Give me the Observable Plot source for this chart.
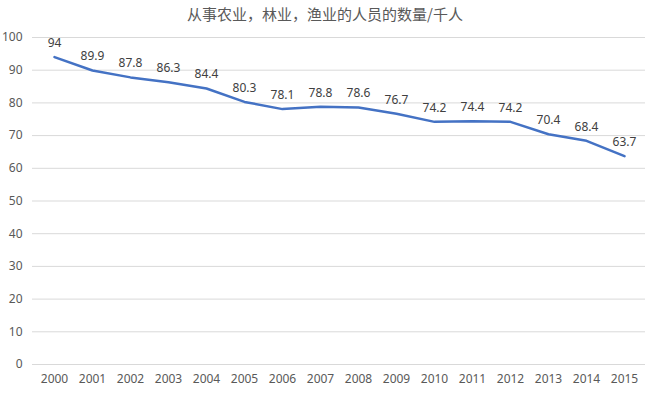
<!DOCTYPE html>
<html>
<head>
<meta charset="utf-8">
<script src="https://cdn.jsdelivr.net/npm/d3@7"></script>
<script src="https://cdn.jsdelivr.net/npm/@observablehq/plot@0.6"></script>
<style>
  body { margin: 0; background: #fff; }
  #title { height: 28px; line-height: 28px; text-align: center; font-family: "Noto Sans CJK SC", sans-serif; font-size: 15px; color: #595959; }
</style>
</head>
<body>
<div id="title">从事农业，林业，渔业的人员的数量/千人</div>
<div id="chart"></div>
<script>
const years = ["2000","2001","2002","2003","2004","2005","2006","2007","2008","2009","2010","2011","2012","2013","2014","2015"];
const values = [94, 89.9, 87.8, 86.3, 84.4, 80.3, 78.1, 78.8, 78.6, 76.7, 74.2, 74.4, 74.2, 70.4, 68.4, 63.7];
const yTicks = [0, 10, 20, 30, 40, 50, 60, 70, 80, 90, 100];

const data = years.map((y, i) => ({year: y, value: values[i]}));

const chart = Plot.plot({
  width: 650,
  height: 366,
  marginLeft: 32,
  marginRight: 5,
  marginTop: 9,
  marginBottom: 30,
  style: {fontFamily: "'Noto Sans', sans-serif", fontSize: "12px", color: "#595959", background: "#fff"},
  x: {type: "point", domain: years, padding: 0.5, label: null},
  y: {domain: [0, 100], label: null},
  marks: [
    Plot.gridY(yTicks, {stroke: "#d9d9d9", strokeOpacity: 1}),
    Plot.axisY(yTicks, {tickSize: 0, tickPadding: 10, fill: "#595959"}),
    Plot.axisX({tickSize: 0, tickPadding: 10, fill: "#595959"}),
    Plot.line(data, {x: "year", y: "value", stroke: "#4472c4", strokeWidth: 2.5}),
    Plot.text(data, {x: "year", y: "value", text: d => String(d.value), dy: -14, fill: "#404040", fontSize: 12})
  ]
});
document.getElementById("chart").appendChild(chart);
</script>
</body>
</html>
